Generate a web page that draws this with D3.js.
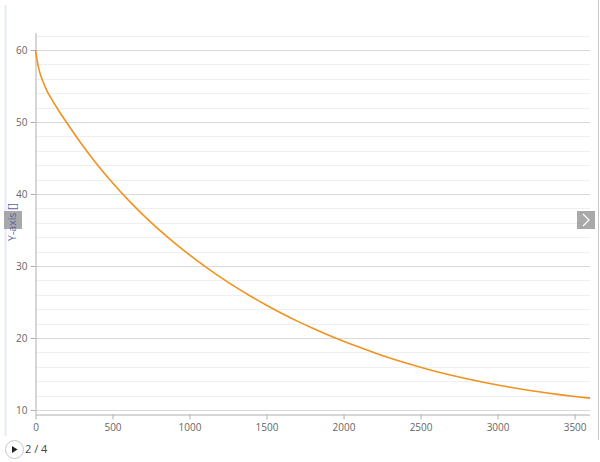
<!DOCTYPE html>
<html><head><meta charset="utf-8">
<script src="https://cdn.jsdelivr.net/npm/d3@7"></script>
<style>
html,body{margin:0;padding:0;background:#fff;}
svg{display:block;font-family:"Open Sans","Noto Sans",sans-serif;}
</style></head>
<body>
<svg id="c" width="600" height="462"></svg>
<script>
const xValues = [0,10,25,50,75,100,150,200,300,400,500,600,700,800,900,1000,1100,1200,1300,1400,1500,1600,1700,1800,1900,2000,2100,2200,2300,2400,2500,2600,2700,2800,2900,3000,3100,3200,3300,3400,3500,3600];
const yValues = [60,58.6,57.1,55.55,54.3,53.35,51.6,50.0,46.91,44.11,41.56,39.21,37.06,35.08,33.25,31.55,29.95,28.46,27.06,25.76,24.54,23.40,22.34,21.35,20.42,19.55,18.73,17.95,17.22,16.55,15.92,15.35,14.82,14.33,13.88,13.47,13.09,12.74,12.42,12.13,11.87,11.64];
const xTicks = [0,500,1000,1500,2000,2500,3000,3500];
const yTicks = [10,20,30,40,50,60];
const yMinorTicks = [12,14,16,18,22,24,26,28,32,34,36,38,42,44,46,48,52,54,56,58,62];
const yTitle = "Y-axis []";
const pageLabel = "2 / 4";

const svg = d3.select("#c");
const x = d3.scaleLinear().domain([0,3600]).range([35.5,590]);
const y = d3.scaleLinear().domain([9.44,62.36]).range([414,33]);

// container borders
svg.append("line").attr("x1",5.5).attr("x2",5.5).attr("y1",5).attr("y2",436).attr("stroke","#e3ecf8").attr("stroke-width",2);
svg.append("line").attr("x1",598.5).attr("x2",598.5).attr("y1",0).attr("y2",440).attr("stroke","#c8c8c8").attr("stroke-width",1);

// minor grid
svg.append("g").selectAll("line").data(yMinorTicks).join("line")
  .attr("x1",x(0)).attr("x2",590).attr("y1",d=>Math.round(y(d))+0.5).attr("y2",d=>Math.round(y(d))+0.5)
  .attr("stroke","#efefef");
// major grid
svg.append("g").selectAll("line").data(yTicks).join("line")
  .attr("x1",x(0)).attr("x2",590).attr("y1",d=>Math.round(y(d))+0.5).attr("y2",d=>Math.round(y(d))+0.5)
  .attr("stroke","#d9d9d9");

// axes
const yAxis = d3.axisLeft(y).tickValues(yTicks).tickSize(5).tickPadding(3).tickFormat(d3.format("d"));
const gy = svg.append("g").attr("transform","translate(35.5,0)").call(yAxis);
const xAxis = d3.axisBottom(x).tickValues(xTicks).tickSize(5).tickPadding(4).tickFormat(d3.format("d"));
const gx = svg.append("g").attr("transform","translate(0,414.5)").call(xAxis);
[gx,gy].forEach(g=>{
  g.select(".domain").attr("stroke","#b0b0b0");
  g.selectAll(".tick line").attr("stroke","#b0b0b0");
  g.selectAll("text").attr("fill","#666").attr("font-size",10).attr("font-family","'Open Sans','Noto Sans',sans-serif");
});
gx.select(".domain").attr("d","M35.5,0.5H590");
gy.select(".domain").attr("d","M0.5,33V414");

// curve
const line = d3.line().x((d,i)=>x(xValues[i])).y(d=>y(d)).curve(d3.curveMonotoneX);
svg.append("path").datum(yValues).attr("d",line).attr("fill","none").attr("stroke","#f0921f").attr("stroke-width",1.6);

// nav buttons
svg.append("rect").attr("x",4).attr("y",211).attr("width",18).attr("height",18).attr("fill","#9a9a9a").attr("opacity",0.85);
svg.append("rect").attr("x",577).attr("y",211).attr("width",18).attr("height",18).attr("fill","#9a9a9a").attr("opacity",0.85);
svg.append("path").attr("d","M583,214 L589,220 L583,226").attr("fill","none").attr("stroke","#fff").attr("stroke-width",1.2);

// y title
svg.append("text").attr("transform","translate(15.5,222) rotate(-90)").attr("text-anchor","middle")
  .attr("font-size",10.5).attr("fill","#5d62a0").text(yTitle);

// play control
svg.append("circle").attr("cx",14.5).attr("cy",449.5).attr("r",9).attr("fill","#fff").attr("stroke","#c8c8c8");
svg.append("path").attr("d","M12,446 L17.5,449.5 L12,453 Z").attr("fill","#222");
svg.append("text").attr("x",25).attr("y",453).attr("font-size",11).attr("fill","#444").text(pageLabel);
</script>
</body></html>
